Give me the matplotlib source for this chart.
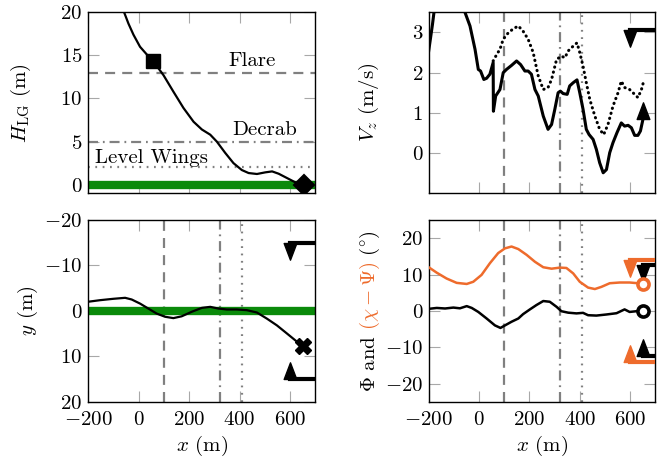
import numpy as np
import matplotlib
matplotlib.use("Agg")
import matplotlib.pyplot as plt
from matplotlib.path import Path
from matplotlib.markers import MarkerStyle

plt.rcParams.update({
    "font.family": "serif",
    "font.serif": ["cmr10"],
    "mathtext.fontset": "cm",
    "axes.formatter.use_mathtext": True,
    "font.size": 15,
    "axes.unicode_minus": True,
})

# ---------------- data ----------------
x_ticks = [-200, 0, 200, 400, 600]
events_x = [100, 322, 408]            # flare, decrab, level wings positions (x)
event_h = [13, 5, 2]                  # heights of flare, decrab, level wings
event_names = ["Flare", "Decrab", "Level Wings"]
event_label_x = [450, 500, 52]
event_label_y = [14.4, 6.3, 3.1]

h_x = [-75, -57, -40, -20, 6, 33, 59, 99, 138, 178, 218, 251, 284, 310, 343, 376,
       409, 436, 469, 502, 529, 555, 588, 621, 654]
h_y = [21.4, 20.0, 18.7, 17.4, 16.0, 15.1, 14.3, 12.7, 10.8, 8.9, 7.3, 6.4, 5.8, 5.0,
       3.7, 2.5, 1.7, 1.35, 1.24, 1.43, 1.54, 1.27, 0.77, 0.27, 0.0]
h_start = (59, 14.3)
h_end = (654, 0.0)

vz_x = [-200, -185, -175, -140, -100, -70, -56, -36, -16, -3, 6, 19, 30, 43, 56, 57, 66,
        83, 96, 109, 129, 149, 165, 182, 195, 208, 222, 235, 255, 274, 288, 301, 314,
        323, 334, 350, 360, 374, 389, 400, 413, 426, 437, 453, 466, 479, 493, 506, 519,
        532, 548, 565, 578, 592, 605, 618, 631, 641, 651]
vz_y = [2.54, 3.2, 3.7, 4.1, 4.1, 3.8, 3.5, 3.16, 2.58, 2.08, 2.04, 1.83, 1.86, 1.96,
        2.25, 1.04, 1.42, 1.58, 2.0, 2.08, 2.18, 2.29, 2.2, 2.04, 2.04, 1.96, 1.58, 1.42,
        0.92, 0.59, 0.71, 1.09, 1.5, 1.54, 1.48, 1.46, 1.67, 1.75, 1.82, 1.5, 1.09, 0.59,
        0.46, 0.34, 0.09, -0.24, -0.49, -0.41, 0.01, 0.26, 0.51, 0.75, 0.67, 0.69, 0.63,
        0.44, 0.44, 0.55, 0.84]
vzc_x = [56, 70, 83, 96, 116, 136, 156, 175, 195, 215, 235, 255, 274, 288, 308, 327, 341,
         354, 374, 389, 400, 413, 426, 440, 460, 479, 495, 512, 532, 552, 565, 578, 598,
         618, 631, 645, 654]
vzc_y = [2.29, 2.45, 2.58, 2.83, 2.99, 3.09, 3.16, 3.03, 2.83, 2.5, 1.92, 1.58, 1.63,
         1.83, 2.33, 2.41, 2.37, 2.54, 2.66, 2.74, 2.5, 2.16, 1.75, 1.33, 0.92, 0.59,
         0.46, 0.71, 1.17, 1.5, 1.79, 1.63, 1.58, 1.46, 1.38, 1.58, 1.79]
vz_limit = 3.05
vz_limit_x = [600, 700]
vz_end = (651, 0.84)

y_x = [-200, -152, -100, -53, -27, 6, 39, 72, 105, 138, 171, 211, 251, 284, 317, 350,
       389, 429, 469, 508, 548, 588, 621, 651]
y_y = [-2.0, -2.35, -2.65, -2.87, -2.5, -1.6, -0.5, 0.6, 1.3, 1.6, 1.2, 0.2, -0.66,
       -0.88, -0.5, -0.3, -0.3, -0.15, 0.37, 1.7, 3.2, 5.0, 6.5, 7.8]
y_limits = [-15, 15]
y_limit_x = [600, 700]

cp_x = [-200, -168, -129, -89, -49, -23, 10, 43, 76, 103, 129, 156, 189, 222, 255, 288,
        321, 347, 374, 400, 433, 460, 486, 519, 559, 598, 631, 651]
cp_y = [12.0, 10.5, 8.9, 7.7, 7.4, 8.0, 9.9, 13.1, 15.9, 17.2, 17.7, 17.0, 15.4, 13.5,
        12.0, 11.6, 11.9, 11.8, 10.3, 8.0, 6.4, 6.0, 6.6, 7.6, 7.8, 7.8, 7.6, 7.3]
phi_x = [-200, -168, -135, -102, -76, -49, -29, -3, 30, 63, 85, 103, 129, 156, 175, 202,
         228, 255, 281, 308, 327, 354, 387, 413, 433, 466, 506, 546, 578, 598, 625, 651]
phi_y = [0.55, 0.8, 0.65, 0.9, 0.7, 1.3, 0.8, -0.3, -2.1, -4.0, -4.7, -4.0, -3.0, -2.1,
         -0.9, 0.4, 1.6, 2.7, 2.5, 1.1, -0.1, -0.5, -0.7, -0.55, -1.2, -1.3, -1.0, -0.65,
         0.4, -0.3, -0.1, 0.0]
phi_limits = [-12.5, 12.5]
phi_limit_x = [650, 700]
cp_limits = [-14, 14]
cp_limit_x = [600, 700]

# ---------------- style ----------------
ORANGE = "#ee6b2c"
GREEN = "#0a8a0a"
GRAY = "#808080"

tri_up = MarkerStyle(Path([(-0.38, 0), (0.38, 0), (0, 1), (-0.38, 0)],
                          [Path.MOVETO, Path.LINETO, Path.LINETO, Path.CLOSEPOLY]))
tri_dn = MarkerStyle(Path([(-0.38, 0), (0.38, 0), (0, -1), (-0.38, 0)],
                          [Path.MOVETO, Path.LINETO, Path.LINETO, Path.CLOSEPOLY]))
TRI_MS = 24

fig = plt.figure(figsize=(6.59, 4.57), dpi=100)
W, H = 659, 457


def make_ax(l, r, t, b):
    return fig.add_axes([l / W, 1 - b / H, (r - l) / W, (b - t) / H])


ax_tl = make_ax(88, 315.3, 12.3, 193.3)
ax_tr = make_ax(428.7, 655.3, 12.3, 193.3)
ax_bl = make_ax(88, 315.3, 220, 401.7)
ax_br = make_ax(428.7, 655.3, 220, 401.7)

for ax in (ax_tl, ax_tr, ax_bl, ax_br):
    ax.set_xlim(-200, 700)
    ax.set_xticks(x_ticks)
    ax.tick_params(direction="in", top=True, right=True, length=8, width=0.8,
                   color="#a8a8a8", labelsize=15, pad=4)
    ax.tick_params(axis="x", pad=6.5)
    for s in ax.spines.values():
        s.set_linewidth(1.0)

ev_styles = [dict(ls=(0, (4.5, 3.2))), dict(ls=(0, (4.5, 2.2, 0.8, 2.2))),
             dict(ls=(0, (0.8, 2.5)))]

# ---- top-left: height ----
ax = ax_tl
ax.set_ylim(-1, 20)
ax.set_yticks([0, 5, 10, 15, 20])
ax.tick_params(labelbottom=False)
for hv, st in zip(event_h, ev_styles):
    ax.axhline(hv, color=GRAY, lw=1.6, **st)
for name, tx, ty in zip(event_names, event_label_x, event_label_y):
    ax.text(tx, ty, name, ha="center", va="center", fontsize=15)
ax.axhline(0, color=GREEN, lw=6, zorder=2)
ax.plot(h_x, h_y, color="black", lw=1.6, zorder=3)
ax.plot(*h_start, marker="s", ms=10.5, color="black", zorder=5)
ax.plot(*h_end, marker="D", ms=10.5, mfc="black", mec="black", mew=1.5, zorder=5)
ax.set_ylabel(r"$H_{\mathrm{LG}}$ (m)")
ax.yaxis.set_label_coords(-0.24, 0.5)

# ---- top-right: vertical speed ----
ax = ax_tr
ax.set_ylim(-1, 3.5)
ax.set_yticks([0, 1, 2, 3])
ax.tick_params(labelbottom=False)
for xv, st in zip(events_x, ev_styles):
    ax.axvline(xv, color=GRAY, lw=1.6, **st)
ax.plot(vz_x, vz_y, color="black", lw=2.2, zorder=3)
ax.plot(vzc_x, vzc_y, color="black", lw=2.2, ls=(0, (0.1, 1.6)),
        dash_capstyle="round", zorder=3)
ax.plot(vz_limit_x, [vz_limit] * 2, color="black", lw=3, zorder=4)
ax.plot(vz_limit_x[0], vz_limit, marker=tri_dn, ms=TRI_MS, color="black", zorder=5)
ax.plot(*vz_end, marker=tri_up, ms=TRI_MS, color="black", zorder=5)
ax.set_ylabel(r"$V_z$ (m/s)")
ax.yaxis.set_label_coords(-0.21, 0.5)

# ---- bottom-left: lateral deviation ----
ax = ax_bl
ax.set_ylim(20, -20)
ax.set_yticks([-20, -10, 0, 10, 20])
for xv, st in zip(events_x, ev_styles):
    ax.axvline(xv, color=GRAY, lw=1.6, **st)
ax.axhline(0, color=GREEN, lw=6, zorder=2)
ax.plot(y_x, y_y, color="black", lw=1.6, zorder=3)
ax.plot(y_x[-1], y_y[-1], marker="X", ms=11, color="black", zorder=5)
for lim, mk in zip(y_limits, (tri_dn, tri_up)):
    ax.plot(y_limit_x, [lim] * 2, color="black", lw=3, zorder=4)
    ax.plot(y_limit_x[0], lim, marker=mk, ms=TRI_MS, color="black", zorder=5)
ax.set_ylabel(r"$y$ (m)")
ax.yaxis.set_label_coords(-0.21, 0.5)
ax.set_xlabel(r"$x$ (m)", labelpad=4)

# ---- bottom-right: angles ----
ax = ax_br
ax.set_ylim(-25, 25)
ax.set_yticks([-20, -10, 0, 10, 20])
for xv, st in zip(events_x, ev_styles):
    ax.axvline(xv, color=GRAY, lw=1.6, **st)
ax.plot(cp_x, cp_y, color=ORANGE, lw=1.8, zorder=3)
ax.plot(phi_x, phi_y, color="black", lw=1.8, zorder=3)
for lim, mk in zip(phi_limits, (tri_up, tri_dn)):
    ax.plot(phi_limit_x, [lim] * 2, color="black", lw=3, zorder=4)
    ax.plot(phi_limit_x[0], lim, marker=mk, ms=TRI_MS, color="black", zorder=5)
for lim, mk in zip(cp_limits, (tri_up, tri_dn)):
    ax.plot(cp_limit_x, [lim] * 2, color=ORANGE, lw=3, zorder=4)
    ax.plot(cp_limit_x[0], lim, marker=mk, ms=TRI_MS, color=ORANGE, zorder=5)
ax.plot(cp_x[-1], cp_y[-1], marker="o", ms=8, mfc="white", mec=ORANGE, mew=2.6, zorder=6)
ax.plot(phi_x[-1], phi_y[-1], marker="o", ms=8, mfc="white", mec="black", mew=2.6, zorder=6)
ax.set_xlabel(r"$x$ (m)", labelpad=4)

# multi-coloured y label
pieces = [(r"$\Phi$ and", "black"), (r"$(\chi-\Psi)$", ORANGE), (r"$(^{\circ})$", "black")]
xl = -0.26
texts = [ax.text(xl, 0, s, color=c, rotation=90, rotation_mode="anchor", ha="left",
                 va="center", transform=ax.transAxes, fontsize=15) for s, c in pieces]
fig.canvas.draw()
r = fig.canvas.get_renderer()
gap = 5
heights = [t.get_window_extent(r).height for t in texts]
total = sum(heights) + gap * (len(texts) - 1)
ax_h = ax.get_window_extent(r).height
y0 = 0.5 - total / 2 / ax_h
for t, hgt in zip(texts, heights):
    t.set_position((xl, y0))
    y0 += (hgt + gap) / ax_h

fig.savefig("out.png", dpi=100)
